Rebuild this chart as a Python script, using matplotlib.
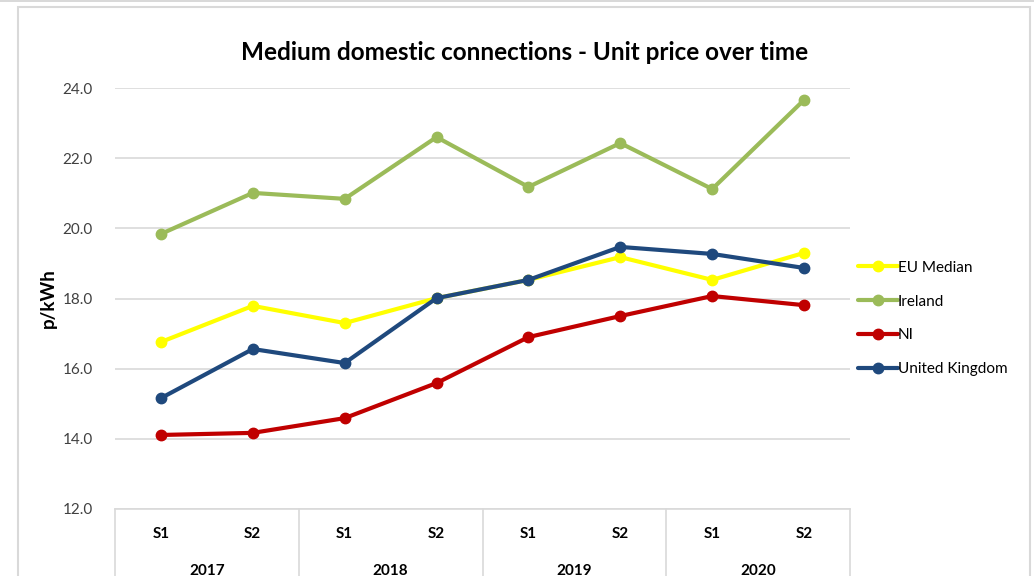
import matplotlib
matplotlib.use("Agg")
import matplotlib.pyplot as plt
from matplotlib.lines import Line2D
from matplotlib.patches import Rectangle
import matplotlib.transforms as mtransforms

plt.rcParams['font.family'] = ['Lato', 'DejaVu Sans']

halves = ["S1", "S2", "S1", "S2", "S1", "S2", "S1", "S2"]
years = ["2017", "2018", "2019", "2020"]
eu_median = [16.76, 17.79, 17.30, 18.01, 18.53, 19.18, 18.53, 19.30]
ireland = [19.84, 21.01, 20.84, 22.60, 21.18, 22.43, 21.12, 23.66]
ni = [14.11, 14.17, 14.59, 15.59, 16.90, 17.50, 18.07, 17.81]
uk = [15.16, 16.56, 16.16, 18.01, 18.53, 19.47, 19.27, 18.87]

series = [
    ("EU Median", eu_median, "#FFFF00"),
    ("Ireland", ireland, "#9BBB59"),
    ("NI", ni, "#C00000"),
    ("United Kingdom", uk, "#1F497D"),
]

W, H = 1034, 576
fig = plt.figure(figsize=(W / 100, H / 100), dpi=100)
fig.patch.set_facecolor("white")

# outer frame
fig.add_artist(Rectangle((0, 1 - 2 / H), 1, 2 / H, transform=fig.transFigure,
                         facecolor="#d9d9d9", edgecolor="none"))
fig.add_artist(Rectangle((18 / W, -0.05), (1030 - 18) / W, 1 - 7 / H + 0.05,
                         transform=fig.transFigure, facecolor="none",
                         edgecolor="#d9d9d9", linewidth=1.5))

left, right, top, bottom = 115, 850, 88, 509
ax = fig.add_axes([left / W, 1 - bottom / H, (right - left) / W, (bottom - top) / H])

x = list(range(len(halves)))
for name, vals, col in series:
    ax.plot(x, vals, color=col, linewidth=3, marker="o", markersize=7.5,
            label=name, solid_capstyle="round", zorder=3)

ax.set_ylim(12, 24)
ax.set_xlim(-0.5, len(halves) - 0.5)
ax.set_yticks([12, 14, 16, 18, 20, 22, 24])
ax.set_yticklabels([f"{v:.1f}" for v in [12, 14, 16, 18, 20, 22, 24]],
                   fontsize=11, color="#404040")
ax.tick_params(axis="y", length=0, pad=16)
ax.grid(axis="y", color="#d9d9d9", linewidth=1.2)
ax.set_axisbelow(True)
for s in ["left", "right", "top"]:
    ax.spines[s].set_visible(False)
ax.spines["bottom"].set_color("#d9d9d9")
ax.spines["bottom"].set_linewidth(1.2)
ax.set_xticks([])

ax.set_ylabel("p/kWh", fontsize=13.5, fontweight="bold", labelpad=4)

# category axis (two-level)
trans = mtransforms.blended_transform_factory(ax.transData, ax.transAxes)
for b in [-0.5, 1.5, 3.5, 5.5, 7.5]:
    ax.add_line(Line2D([b, b], [0, -0.2], transform=trans, color="#d9d9d9",
                       linewidth=1.2, clip_on=False))
for i, lab in enumerate(halves):
    ax.text(i, -25 / (bottom - top), lab, transform=trans, ha="center", va="center",
            fontsize=11, fontweight="bold")
for j, yr in enumerate(years):
    ax.text(2 * j + 0.5, -62 / (bottom - top), yr, transform=trans, ha="center",
            va="center", fontsize=11, fontweight="bold")

fig.text(525 / W, 1 - 52 / H, "Medium domestic connections - Unit price over time",
         ha="center", va="center", fontsize=17.5, fontweight="bold")

fig.legend(loc="center left", bbox_to_anchor=(852 / W, 1 - 318.5 / H),
           frameon=False, fontsize=11, handlelength=2.6, handletextpad=0.0,
           labelspacing=1.3, borderaxespad=0)

fig.savefig("out.png", dpi=100)
